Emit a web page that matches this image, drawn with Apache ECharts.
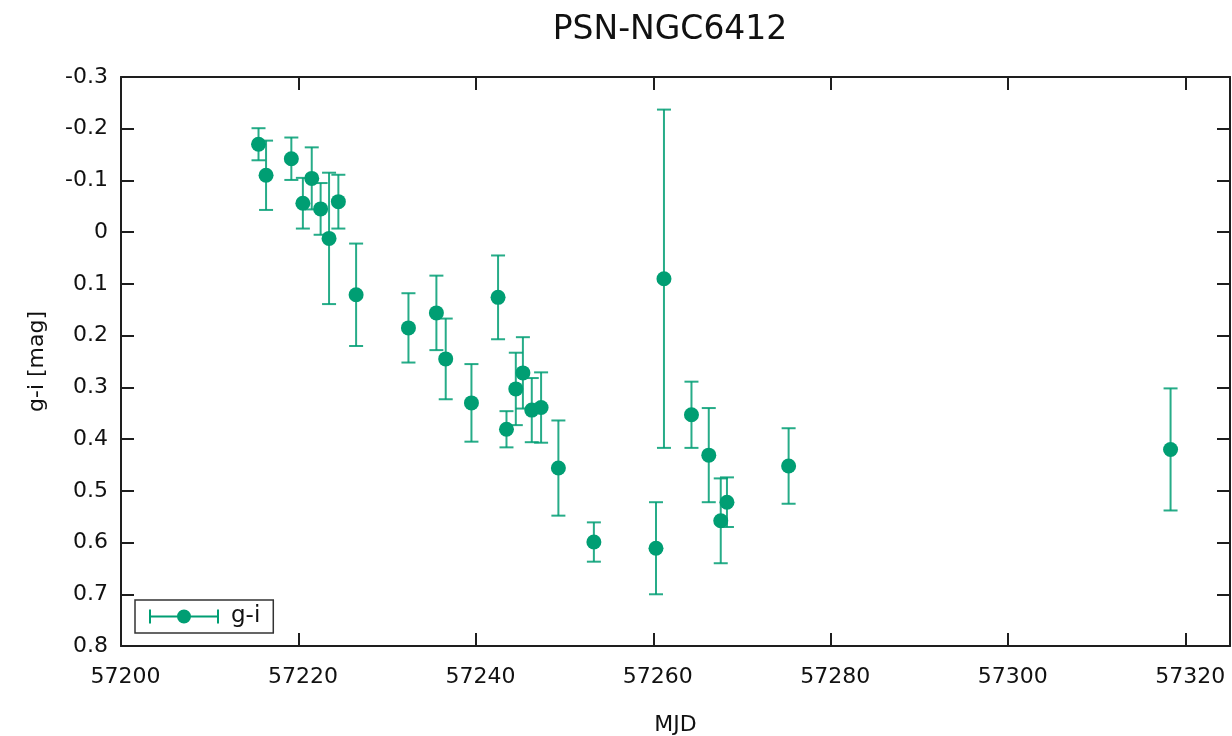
<!DOCTYPE html>
<html>
<head>
<meta charset="utf-8">
<title>PSN-NGC6412</title>
<script src="https://cdn.jsdelivr.net/npm/echarts@6/dist/echarts.min.js"></script>
<style>
  html, body { margin: 0; padding: 0; background: #ffffff; }
  #chart { width: 1232px; height: 736px; }
</style>
</head>
<body>
<div id="chart"></div>
<script>
// g-i colour curve of PSN-NGC6412
const mjd = [57215.5, 57216.35, 57219.2, 57220.5, 57221.5, 57222.5, 57223.45, 57224.5, 57226.5,
             57232.4, 57235.55, 57236.6, 57239.5, 57242.5, 57243.45, 57244.5, 57245.3, 57246.3,
             57247.35, 57249.3, 57253.3, 57260.3, 57261.2, 57264.3, 57266.25, 57267.6, 57268.3,
             57275.25, 57318.3];
const gi = [-0.170, -0.110, -0.142, -0.056, -0.104, -0.045, 0.012, -0.059, 0.121,
            0.185, 0.156, 0.245, 0.330, 0.126, 0.381, 0.303, 0.272, 0.344,
            0.339, 0.456, 0.599, 0.611, 0.090, 0.353, 0.431, 0.558, 0.522,
            0.452, 0.420];
const giErr = [0.031, 0.067, 0.041, 0.049, 0.060, 0.050, 0.127, 0.052, 0.099,
               0.067, 0.072, 0.078, 0.075, 0.081, 0.035, 0.070, 0.069, 0.062,
               0.068, 0.092, 0.038, 0.089, 0.327, 0.064, 0.091, 0.082, 0.048,
               0.073, 0.118];

const xMin = 57200, xMax = 57325, xStep = 20;
const yMin = -0.3, yMax = 0.8, yStep = 0.1;

const seriesName = 'g-i';
const green = '#009e73';
const ink = '#1e1e1e';
const font = 'DejaVu Sans';

const points = mjd.map((x, i) => [x, gi[i], giErr[i]]);

// horizontal error bar with a dot, used as the key symbol
const keyIcon = 'path://M0 6H70V8H0Z M0 0H2V14H0Z M68 0H70V14H68Z M28 7A7 7 0 1 1 42 7A7 7 0 1 1 28 7Z';

const chart = echarts.init(document.getElementById('chart'), null, { renderer: 'canvas' });

const baseAxis = {
  axisLine: { show: true, onZero: false, lineStyle: { color: ink, width: 2 } },
  axisTick: { show: true, inside: true, length: 13, lineStyle: { color: ink, width: 2 } },
  splitLine: { show: false },
  minorTick: { show: false }
};

function fmtY(v) {
  const s = String(parseFloat(Number(v).toFixed(1)));
  return s === '-0' ? '0' : s;
}

chart.setOption({
  animation: false,
  backgroundColor: '#ffffff',
  title: {
    text: 'PSN-NGC6412',
    left: 665,
    top: 9,
    textAlign: 'center',
    textStyle: { fontFamily: font, fontSize: 33, fontWeight: 'normal', color: '#111' }
  },
  legend: {
    left: 135,
    top: 600,
    orient: 'vertical',
    padding: [5, 13, 5, 14],
    borderColor: '#333',
    borderWidth: 1.5,
    itemWidth: 70,
    itemHeight: 14,
    data: [{ name: seriesName, icon: keyIcon, itemStyle: { color: green } }],
    textStyle: { fontFamily: font, fontSize: 23, color: '#111', padding: [0, 0, 0, 7], lineHeight: 22 }
  },
  grid: { left: 121, right: 2, top: 77, bottom: 90, containLabel: false, outerBoundsMode: 'none' },
  xAxis: [
    Object.assign({}, baseAxis, {
      type: 'value', position: 'bottom', min: xMin, max: xMax, interval: xStep,
      name: 'MJD', nameLocation: 'middle', nameGap: 68,
      nameTextStyle: { fontFamily: font, fontSize: 22, color: '#111' },
      axisLabel: {
        show: true, showMaxLabel: false, margin: 20, padding: [0, 0, 0, 9],
        fontFamily: font, fontSize: 22, color: '#111',
        formatter: v => String(Math.round(v))
      }
    }),
    Object.assign({}, baseAxis, {
      type: 'value', position: 'top', min: xMin, max: xMax, interval: xStep,
      axisLabel: { show: false }
    })
  ],
  yAxis: [
    Object.assign({}, baseAxis, {
      type: 'value', position: 'left', inverse: true, min: yMin, max: yMax, interval: yStep,
      name: 'g-i [mag]', nameLocation: 'middle', nameGap: 73,
      nameTextStyle: { fontFamily: font, fontSize: 22, color: '#111' },
      axisLabel: { show: true, margin: 13, fontFamily: font, fontSize: 22, color: '#111', formatter: fmtY }
    }),
    Object.assign({}, baseAxis, {
      type: 'value', position: 'right', inverse: true, min: yMin, max: yMax, interval: yStep,
      axisLabel: { show: false }
    })
  ],
  series: [
    {
      // vertical error bars with end caps
      name: seriesName,
      type: 'custom',
      xAxisIndex: 0,
      yAxisIndex: 0,
      z: 2,
      silent: true,
      data: points,
      renderItem: function (params, api) {
        const x = api.value(0), y = api.value(1), e = api.value(2);
        const lo = api.coord([x, y - e]);
        const hi = api.coord([x, y + e]);
        const cap = 7;
        const style = { stroke: green, lineWidth: 2, opacity: 0.85 };
        return {
          type: 'group',
          children: [
            { type: 'line', shape: { x1: lo[0], y1: lo[1], x2: hi[0], y2: hi[1] }, style: style },
            { type: 'line', shape: { x1: lo[0] - cap, y1: lo[1], x2: lo[0] + cap, y2: lo[1] }, style: style },
            { type: 'line', shape: { x1: hi[0] - cap, y1: hi[1], x2: hi[0] + cap, y2: hi[1] }, style: style }
          ]
        };
      }
    },
    {
      name: seriesName,
      type: 'scatter',
      xAxisIndex: 0,
      yAxisIndex: 0,
      z: 3,
      symbol: 'circle',
      symbolSize: 15,
      itemStyle: { color: green, opacity: 1 },
      data: points.map(p => [p[0], p[1]])
    }
  ]
});
</script>
</body>
</html>
